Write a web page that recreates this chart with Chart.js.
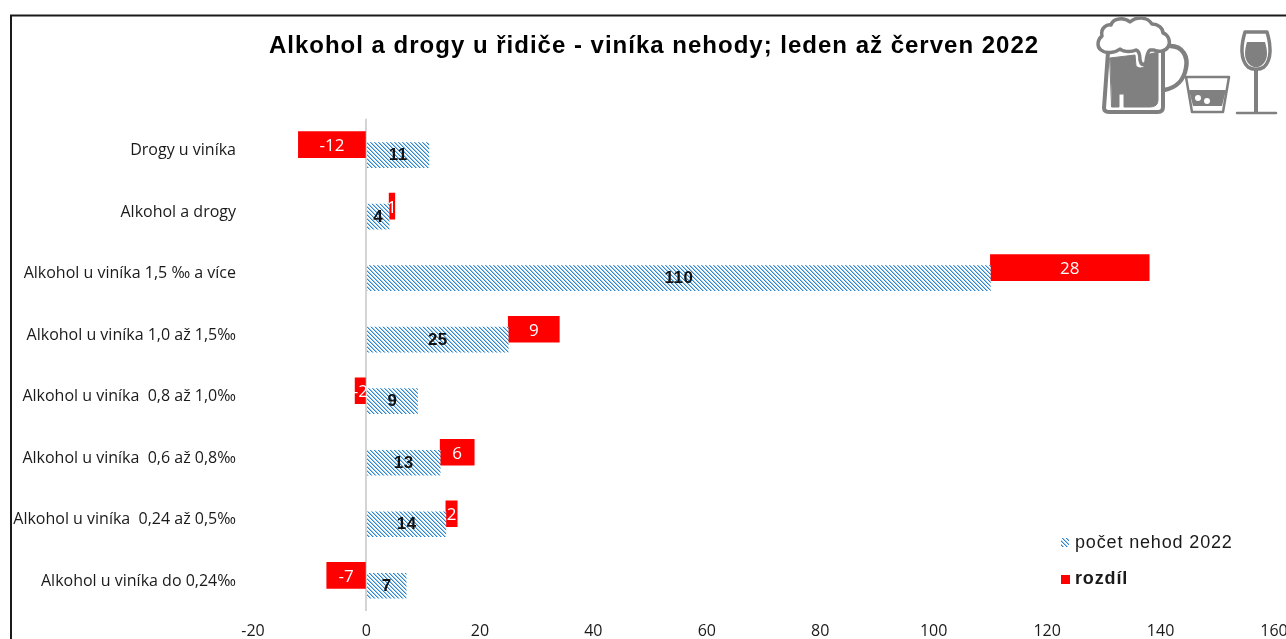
<!DOCTYPE html>
<html lang="cs"><head><meta charset="utf-8">
<style>html,body{margin:0;padding:0;background:#fff;overflow:hidden}
#w{position:relative;width:1286px;height:639px}canvas{position:absolute;left:0;top:0}svg{position:absolute;left:0;top:0;pointer-events:none}</style>
<script src="https://cdn.jsdelivr.net/npm/chart.js@4"></script>
</head><body><div id="w"><canvas id="c" width="1286" height="639"></canvas>
<svg width="1286" height="639" viewBox="0 0 1286 639" fill="none">
<g stroke="#808080" stroke-linejoin="round" stroke-linecap="round">
<path d="M1170 46C1184 46 1188 58 1186 68C1184 80 1176 88 1164 90" stroke-width="4.5"/>
<path d="M1108 52L1104 108Q1104 112 1110 112L1158 112Q1163 112 1163 107L1163 50" stroke-width="4" fill="#fff"/>
<path d="M1110 58L1135 55L1136 66Q1140 70 1145 66L1146 55L1158 52L1158 100Q1158 107 1150 107L1124 107L1124 94L1119 94L1119 107L1112 107Z" fill="#808080" stroke-width="1"/>
<path d="M1101 50C1096 46 1098 39 1102 36C1100 28 1107 24 1111 25C1113 18 1124 17 1130 22C1136 17 1147 16 1152 24C1158 24 1163 28 1163 33C1169 35 1171 43 1168 47C1165 52 1158 52 1154 50L1150 50Q1147 52 1146 62Q1142 68 1140 60Q1140 51 1136 50C1130 53 1122 51 1120 49C1115 53 1106 54 1101 50Z" stroke-width="3.5" fill="#fff"/>
<path d="M1186 77L1229 77L1223 112L1192 112Z" stroke-width="2.5" fill="#fff"/>
<path d="M1189 90L1226 90L1222 106L1193 106Z" fill="#808080" stroke="none"/>
<path d="M1245 32L1267 32C1271 45 1272 60 1264 67C1260 70 1252 70 1248 67C1240 60 1241 45 1245 32Z" stroke-width="3.5" fill="#fff"/>
<path d="M1247 42L1265 42C1268 52 1268 60 1262 65C1258 68 1254 68 1250 65C1244 60 1244 52 1247 42Z" fill="#808080" stroke="none"/>
<path d="M1256 70L1256 112" stroke-width="4"/><path d="M1237 113L1276 113" stroke-width="2.5"/>
</g>
<circle cx="1198" cy="98" r="3" fill="#fff"/><circle cx="1207" cy="101" r="3" fill="#fff"/>
</svg></div>
<script>
const categories = ["Drogy u viníka","Alkohol a drogy","Alkohol u viníka 1,5 ‰ a více","Alkohol u viníka 1,0 až 1,5‰","Alkohol u viníka  0,8 až 1,0‰","Alkohol u viníka  0,6 až 0,8‰","Alkohol u viníka  0,24 až 0,5‰","Alkohol u viníka do 0,24‰"];
const pocetNehod = [11,4,110,25,9,13,14,7];
const rozdil = [-12,1,28,9,-2,6,2,-7];
const titleText = "Alkohol a drogy u řidiče - viníka nehody; leden až červen 2022";
const seriesNames = ["počet nehod 2022","rozdíl"];
const BLUE_SHIFT = 0.09, RED_SHIFT = -0.08;

function makePattern(){
  const t=document.createElement('canvas');t.width=4;t.height=4;
  const g=t.getContext('2d');g.fillStyle='#fff';g.fillRect(0,0,4,4);
  g.fillStyle='#2f86c8';
  [[0,0],[1,1],[2,2],[3,3]].forEach(p=>g.fillRect(p[0],p[1],1,1));
  g.fillStyle='#9cc8e8';
  [[1,0],[2,1],[3,2],[0,3]].forEach(p=>g.fillRect(p[0],p[1],1,1));
  return g.createPattern(t,'repeat');
}
const hatch=makePattern();
const SANS='"Liberation Sans",Arial,sans-serif', HUM='"Open Sans",sans-serif';

const decor={id:'decor',
 afterLayout(ch){
  const t=ch.titleBlock;
  if(t){ t.left+=17;t.right+=17;
   if(!t._wrapped){t._wrapped=true;const d=t.draw.bind(t);
    t.draw=function(){const c=ch.ctx;c.save();c.letterSpacing='1px';d();c.restore();};}
  }
 },
 afterDraw(ch){
  const c=ch.ctx;c.save();
  c.strokeStyle='#1a1a1a';c.lineWidth=2;c.beginPath();c.moveTo(11,639);c.lineTo(11,15.5);c.lineTo(1286,15.5);c.stroke();
  c.textAlign='center';c.textBaseline='middle';
  c.letterSpacing='0.5px';
  ch.getDatasetMeta(0).data.forEach((b,i)=>{c.font='bold 17px '+SANS;c.fillStyle='#111';c.fillText(pocetNehod[i],(b.x+b.base)/2,b.y+0.5);});
  c.letterSpacing='0px';
  ch.getDatasetMeta(1).data.forEach((b,i)=>{c.font='17px '+HUM;c.fillStyle='#fff';c.fillText(rozdil[i],(b.x+b.base)/2,b.y+1.5);});
  c.textAlign='left';
  c.fillStyle=hatch;c.fillRect(1061,538,8,9);
  c.fillStyle='#ff0000';c.fillRect(1061,575,9,9);
  c.fillStyle='#1a1a1a';
  c.letterSpacing='0.85px';
  c.font='18px '+SANS;c.fillText(ch.data.datasets[0].label,1075,543);
  c.font='bold 18px '+SANS;c.fillText(ch.data.datasets[1].label,1075,579);
  c.restore();
 }};

new Chart(document.getElementById('c'),{
 type:'bar',
 data:{datasets:[
  {label:seriesNames[0],data:pocetNehod.map((v,i)=>({x:v,y:i+BLUE_SHIFT})),backgroundColor:hatch,barThickness:25,grouped:false},
  {label:seriesNames[1],data:rozdil.map((d,i)=>({x:d<0?[d,0]:[pocetNehod[i],pocetNehod[i]+d],y:i+RED_SHIFT})),backgroundColor:'#ff0000',barThickness:26,grouped:false}
 ]},
 options:{indexAxis:'y',responsive:false,animation:false,
  layout:{padding:{left:0,right:12,top:0,bottom:0}},
  plugins:{legend:{display:false},tooltip:{enabled:false},
   title:{display:true,text:titleText,color:'#000',font:{family:SANS,size:24,weight:'bold',lineHeight:1.2},padding:{top:32,bottom:58}}},
  scales:{
   x:{type:'linear',min:-20,max:160,
    border:{display:false},
    grid:{drawTicks:false,lineWidth:2,color:ctx=>ctx.tick.value===0?'#d4d4d4':'transparent'},
    ticks:{stepSize:20,padding:11,color:'#1a1a1a',font:{family:HUM,size:16},maxRotation:0,autoSkip:false},
    afterFit(s){s.height=28;s.paddingLeft=0;s.paddingRight=0;}},
   y:{type:'linear',reverse:true,min:-0.5,max:7.5,bounds:'data',offset:false,
    border:{display:false},grid:{display:false,drawTicks:false},
    afterBuildTicks(s){s.ticks=categories.map((_,i)=>({value:i}));},
    ticks:{autoSkip:false,padding:17,labelOffset:1,color:'#1a1a1a',font:{family:HUM,size:16},callback:v=>categories[v]},
    afterFit(s){s.width=253;s.paddingTop=0;s.paddingBottom=0;}}
  }},
 plugins:[decor]
});
</script></body></html>
